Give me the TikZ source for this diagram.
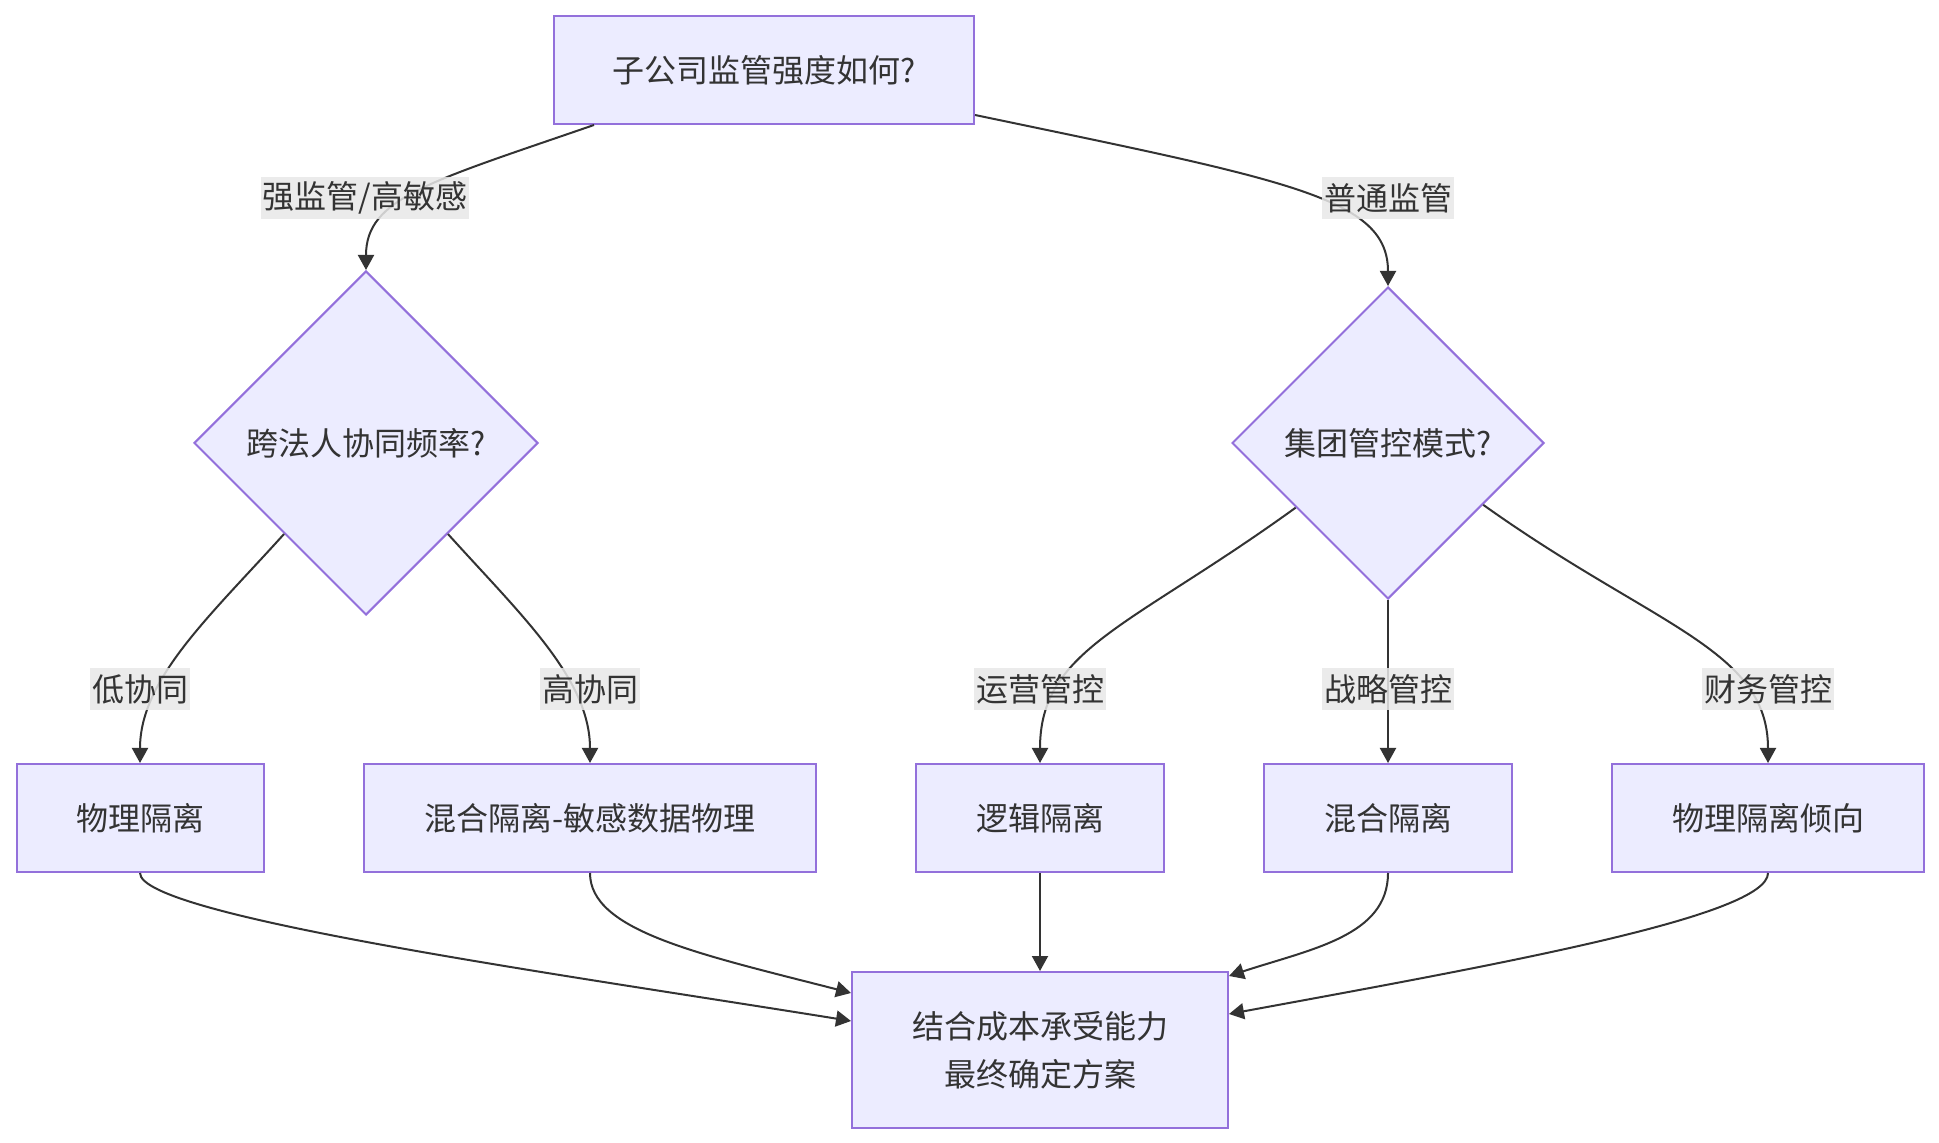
\documentclass[tikz,border=0pt]{standalone}
\usepackage{fontspec}
\setmainfont{Noto Sans CJK SC}
\usetikzlibrary{arrows.meta,shapes.geometric,calc}
\definecolor{nodefill}{HTML}{ECECFF}
\definecolor{nodeline}{HTML}{9370DB}
\definecolor{inkgray}{HTML}{333333}
\definecolor{lblfill}{HTML}{E8E8E8}

\begin{document}
\begin{tikzpicture}[
        x=0.5pt, y=-0.5pt,
        font=\fontsize{16pt}{24pt}\selectfont,
        block/.style={rectangle, draw=nodeline, fill=nodefill, line width=1pt, text=inkgray, minimum height=54pt, align=center},
        decision/.style={diamond, aspect=1, draw=nodeline, fill=nodefill, line width=1pt, text=inkgray, inner sep=0pt},
        edgelabel/.style={fill=lblfill, fill opacity=0.85, text opacity=1, text=inkgray, inner xsep=1pt, inner ysep=0pt, minimum height=21pt},
        arrow/.style={-{Triangle[length=7.5pt,width=8pt]}, line width=1pt, draw=inkgray}
    ]
        \useasboundingbox (0,0) rectangle (1939,1143);

        \node[block, minimum width=210pt] (root) at (764,70) {子公司监管强度如何?};
        \node[decision, minimum width=172pt, minimum height=172pt] (cross) at (366,443) {跨法人协同频率?};
        \node[decision, minimum width=156pt, minimum height=156pt] (mode) at (1388,443) {集团管控模式?};

        \node[block, minimum width=123.5pt] (phys) at (140,818) {物理隔离};
        \node[block, minimum width=226pt] (hybsens) at (590,818) {混合隔离-敏感数据物理};
        \node[block, minimum width=124pt] (logic) at (1040,818) {逻辑隔离};
        \node[block, minimum width=124pt] (hyb) at (1388,818) {混合隔离};
        \node[block, minimum width=156pt] (physlean) at (1768,818) {物理隔离倾向};
        \node[block, minimum width=188pt, minimum height=78pt] (final) at (1040,1050) {结合成本承受能力\\最终确定方案};

        % first split
        \draw[arrow] ($(root.south west)+(41,0)$) .. controls +(-165,57) and +(0,-72) .. (cross.north);
        \draw[arrow] ($(root.south east)+(0,-10)$) .. controls +(316,66) and +(0,-88) .. (mode.north);

        % second level
        \draw[arrow] (cross.228) .. controls +(-74,82) and +(0,-84) .. (phys.north);
        \draw[arrow] (cross.312) .. controls +(74,82) and +(0,-84) .. (hybsens.north);
        \draw[arrow] (mode.215) .. controls +(-166,120) and +(0,-114) .. (logic.north);
        \draw[arrow] (mode.south) -- (hyb.north);
        \draw[arrow] (mode.327) .. controls +(171,122) and +(0,-114) .. (physlean.north);

        % merge into final decision
        \draw[arrow] (phys.south) .. controls +(0,43) and +(-292,-47) .. ($(final.north west)+(0,50)$);
        \draw[arrow] (hybsens.south) .. controls +(0,58) and +(-152,-39) .. ($(final.north west)+(0,22)$);
        \draw[arrow] (logic.south) -- (final.north);
        \draw[arrow] (hyb.south) .. controls +(0,63) and +(82,-27) .. ($(final.north east)+(0,5)$);
        \draw[arrow] (physlean.south) .. controls +(0,43) and +(272,-50) .. ($(final.north east)+(0,43)$);

        % edge labels
        \node[edgelabel] (lstrong) at (365,198) {强监管/高敏感};
        \node[edgelabel] (lnormal) at (1388,198) {普通监管};
        \node[edgelabel] (llow) at (140,689) {低协同};
        \node[edgelabel] (lhigh) at (590,689) {高协同};
        \node[edgelabel] (lops) at (1040,689) {运营管控};
        \node[edgelabel] (lstrat) at (1388,689) {战略管控};
        \node[edgelabel] (lfin) at (1768,689) {财务管控};
    \end{tikzpicture}
\end{document}
